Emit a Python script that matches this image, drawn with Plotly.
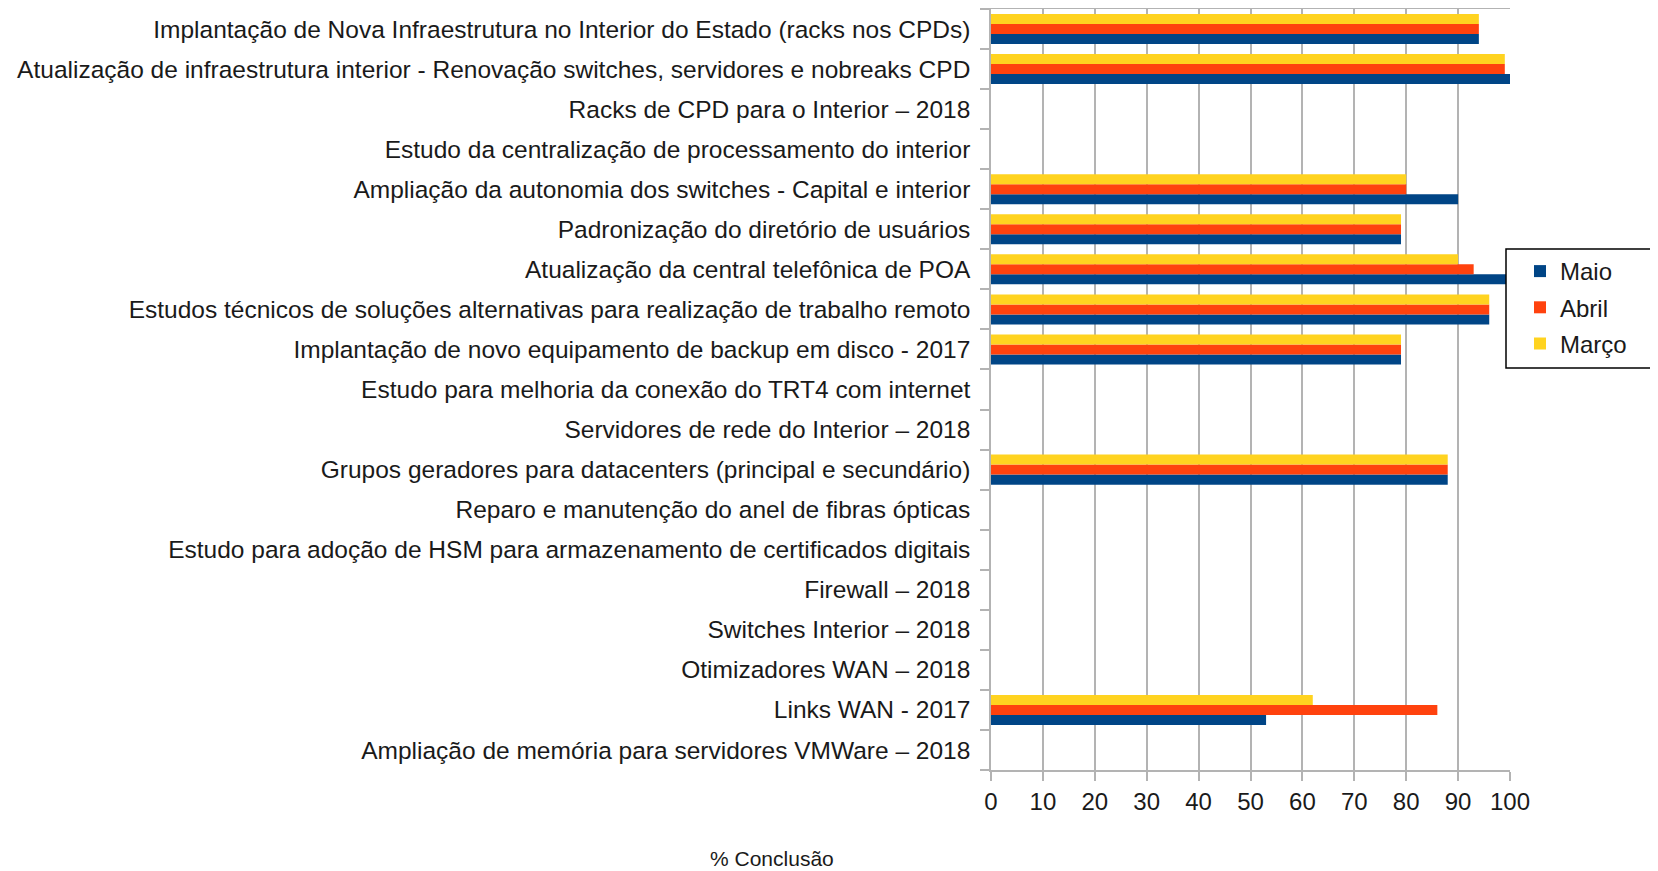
import plotly.graph_objects as go

categories = [
    "Implantação de Nova Infraestrutura no Interior do Estado (racks nos CPDs)",
    "Atualização de infraestrutura interior - Renovação switches, servidores e nobreaks CPD",
    "Racks de CPD para o Interior – 2018",
    "Estudo da centralização de processamento do interior",
    "Ampliação da autonomia dos switches - Capital e interior",
    "Padronização do diretório de usuários",
    "Atualização da central telefônica de POA",
    "Estudos técnicos de soluções alternativas para realização de trabalho remoto",
    "Implantação de novo equipamento de backup em disco - 2017",
    "Estudo para melhoria da conexão do TRT4 com internet",
    "Servidores de rede do Interior – 2018",
    "Grupos geradores para datacenters (principal e secundário)",
    "Reparo e manutenção do anel de fibras ópticas",
    "Estudo para adoção de HSM para armazenamento de certificados digitais",
    "Firewall – 2018",
    "Switches Interior – 2018",
    "Otimizadores WAN – 2018",
    "Links WAN - 2017",
    "Ampliação de memória para servidores VMWare – 2018",
]

maio  = [94, 100, None, None, 90, 79, 110, 96, 79, None, None, 88, None, None, None, None, None, 53, None]
abril = [94, 99, None, None, 80, 79, 93, 96, 79, None, None, 88, None, None, None, None, None, 86, None]
marco = [94, 99, None, None, 80, 79, 90, 96, 79, None, None, 88, None, None, None, None, None, 62, None]

series_names = ["Maio", "Abril", "Março"]
series_values = [maio, abril, marco]
series_colors = ["#004586", "#ff420e", "#ffd320"]

x_ticks = list(range(0, 101, 10))

FONT = "Liberation Sans, Arial, sans-serif"
TXT = "#1a1a1a"
GRID = "#b3b3b3"

# page has an 8px body margin: figure coords = reference px - 8
W, H = 1650, 863
L, R, T, B = 983, 148, 1, 101
PW, PH = W - L - R, H - T - B


def px_x(ref_x):
    return (ref_x - 8 - L) / PW


def px_y(ref_y):
    return 1 - (ref_y - 8 - T) / PH


fig = go.Figure()
for name, vals, col in zip(series_names, series_values, series_colors):
    fig.add_trace(go.Bar(
        y=categories, x=vals, name=name, orientation="h",
        marker=dict(color=col, line=dict(width=0)),
        cliponaxis=False, legendgroup=name,
    ))

fig.update_layout(
    width=W, height=H,
    barmode="group", bargap=0.25, bargroupgap=0,
    plot_bgcolor="white", paper_bgcolor="white",
    margin=dict(l=L, r=R, t=T, b=B, autoexpand=False),
    font=dict(family=FONT, size=24, color=TXT),
    legend=dict(
        x=px_x(1520), xanchor="left", y=px_y(249), yanchor="top",
        borderwidth=0, bgcolor="rgba(0,0,0,0)",
        font=dict(family=FONT, size=24, color=TXT),
        traceorder="grouped", tracegroupgap=2,
    ),
    showlegend=True,
)

# legend frame (covers the overflowing bar like the reference)
fig.add_shape(
    type="rect", xref="paper", yref="paper",
    x0=px_x(1506), x1=px_x(1656), y0=px_y(368), y1=px_y(249),
    line=dict(color="black", width=1.5), fillcolor="white", layer="above",
)

fig.update_xaxes(
    range=[0, 100], tickvals=x_ticks, ticktext=[str(v) for v in x_ticks],
    showgrid=True, gridcolor=GRID, gridwidth=1.5,
    showline=True, linecolor=GRID, linewidth=2, mirror=True,
    ticks="outside", ticklen=9, tickcolor=GRID, tickwidth=1.5,
    tickfont=dict(family=FONT, size=24, color=TXT),
    zeroline=False, fixedrange=True,
)
fig.update_yaxes(
    type="category", categoryorder="array", categoryarray=categories[::-1],
    showgrid=False, showline=True, linecolor=GRID, linewidth=1.5,
    ticks="outside", tickson="boundaries", ticklen=9, tickcolor=GRID, tickwidth=1.5,
    tickfont=dict(family=FONT, size=24.5, color=TXT),
    ticklabelstandoff=14,
    zeroline=False, fixedrange=True,
)

fig.add_annotation(
    text="% Conclusão", xref="paper", yref="paper",
    x=px_x(772), y=px_y(858), xanchor="center", yanchor="middle",
    showarrow=False, font=dict(family=FONT, size=21, color=TXT),
)

fig.write_html("out.html")
